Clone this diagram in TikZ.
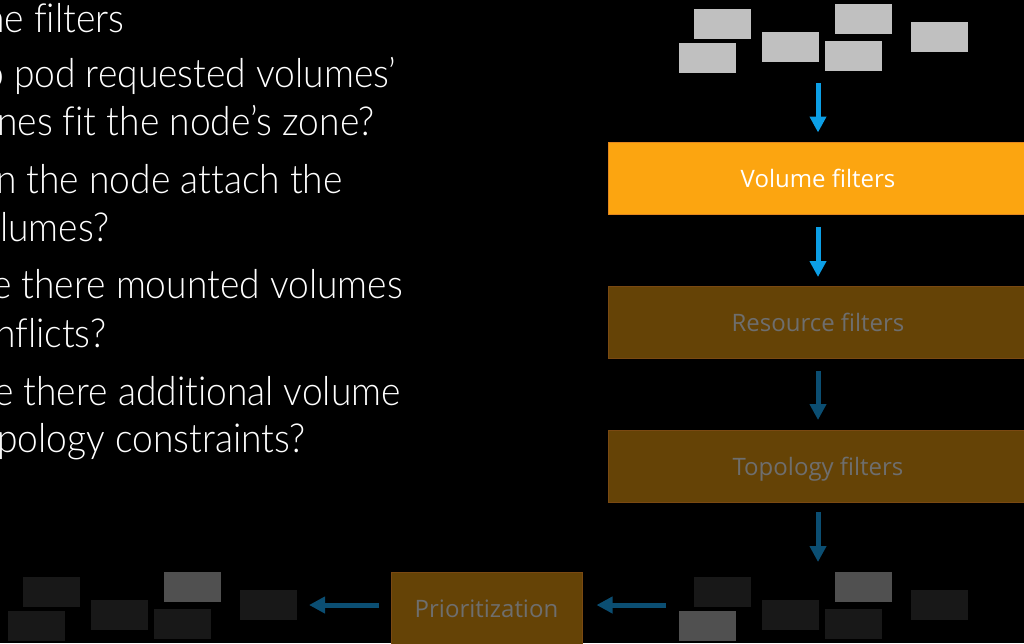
\documentclass[tikz,border=0pt]{standalone}
\usepackage{fontspec}
\setmainfont{Open Sans}
\newfontfamily\lightfont{Lato Light}[FakeStretch=0.93, Ligatures=NoCommon]
\usetikzlibrary{arrows.meta}

\definecolor{boxorange}{HTML}{FCA510}
\definecolor{edgeorange}{HTML}{E3861E}
\definecolor{boxbrown}{HTML}{654306}
\definecolor{edgebrown}{HTML}{7A4912}
\definecolor{dimtext}{HTML}{6E6E6E}
\definecolor{lightpod}{HTML}{C0C0C0}
\definecolor{midpod}{HTML}{505050}
\definecolor{darkpod}{HTML}{181818}
\definecolor{brightblue}{HTML}{0C9FE6}
\definecolor{deepblue}{HTML}{0B4E72}

\tikzset{
  pod/.style={rectangle, minimum width=57pt, minimum height=30pt, inner sep=0pt, fill=#1},
  stage/.style={rectangle, minimum height=72pt, inner sep=0pt, line width=1pt,
    text height=18.5pt, text depth=0pt,
    font=\fontsize{24}{28}\selectfont},
  activestage/.style={stage, fill=boxorange, draw=edgeorange, text=white},
  idlestage/.style={stage, fill=boxbrown, draw=edgebrown, text=dimtext},
  flow/.style={-{Triangle[width=16pt,length=16pt]}, line width=5pt, draw=#1},
  bullet/.style={anchor=base west, text=white, inner sep=0pt,
    font=\lightfont\fontsize{40}{48}\selectfont}
}

\begin{document}
\begin{tikzpicture}[x=1pt,y=-1pt]
  \fill[black] (0,0) rectangle (1024,643);
  \useasboundingbox (0,0) rectangle (1024,643);
  \clip (0,0) rectangle (1024,643);

  % question list
  \node[bullet] (q1) at (-16,32)  {ne filters};
  \node[bullet] (q2) at (-17,87)  {o pod requested volumes’};
  \node[bullet] (q3) at (-3,135)  {nes fit the node’s zone?};
  \node[bullet] (q4) at (-4,193)  {n the node attach the};
  \node[bullet] (q5) at (0,241)   {lumes?};
  \node[bullet] (q6) at (-8,298)  {e there mounted volumes};
  \node[bullet] (q7) at (-5,347)  {nflicts?};
  \node[bullet] (q8) at (-6,405)  {e there additional volume};
  \node[bullet] (q9) at (-3,452)  {pology constraints?};

  % incoming pods
  \node[pod=lightpod] (t1) at (722.5,24) {};
  \node[pod=lightpod] (t2) at (707.5,58) {};
  \node[pod=lightpod] (t3) at (790.5,47) {};
  \node[pod=lightpod] (t4) at (863.5,19) {};
  \node[pod=lightpod] (t5) at (853.5,56) {};
  \node[pod=lightpod] (t6) at (939.5,37) {};

  % filter stages
  \node[activestage, minimum width=420pt] (vol)  at (818,178) {Volume filters};
  \node[idlestage,   minimum width=420pt] (res)  at (818,322.5) {Resource filters};
  \node[idlestage,   minimum width=420pt] (topo) at (818,466.5) {Topology filters};
  \node[idlestage,   minimum width=191pt] (prio) at (486.5,608) {Prioritization};

  % pods after filtering
  \node[pod=darkpod] (b1) at (722.5,592) {};
  \node[pod=midpod]  (b2) at (707.5,626) {};
  \node[pod=darkpod] (b3) at (790.5,615) {};
  \node[pod=midpod]  (b4) at (863.5,587) {};
  \node[pod=darkpod] (b5) at (853.5,624) {};
  \node[pod=darkpod] (b6) at (939.5,605) {};

  % pods after prioritization
  \node[pod=darkpod] (l1) at (51.5,592) {};
  \node[pod=darkpod] (l2) at (36.5,626) {};
  \node[pod=darkpod] (l3) at (119.5,615) {};
  \node[pod=midpod]  (l4) at (192.5,587) {};
  \node[pod=darkpod] (l5) at (182.5,624) {};
  \node[pod=darkpod] (l6) at (268.5,605) {};

  % flow arrows
  \coordinate (inflow) at (818,83);
  \coordinate (outflow) at (818,562);
  \coordinate (rt) at (666,605);
  \coordinate (lt) at (309,605);

  \draw[flow=brightblue, shorten >=9pt] (inflow) -- (vol.north);
  \draw[flow=brightblue, shorten <=12pt, shorten >=9pt] (vol.south) -- (res.north);
  \draw[flow=deepblue, shorten <=12pt, shorten >=10pt] (res.south) -- (topo.north);
  \draw[flow=deepblue, shorten <=9pt] (topo.south) -- (outflow);
  \draw[flow=deepblue, shorten >=14pt] (rt) -- (prio.east |- rt);
  \draw[flow=deepblue, shorten <=12pt] (prio.west |- lt) -- (lt);
\end{tikzpicture}
\end{document}
